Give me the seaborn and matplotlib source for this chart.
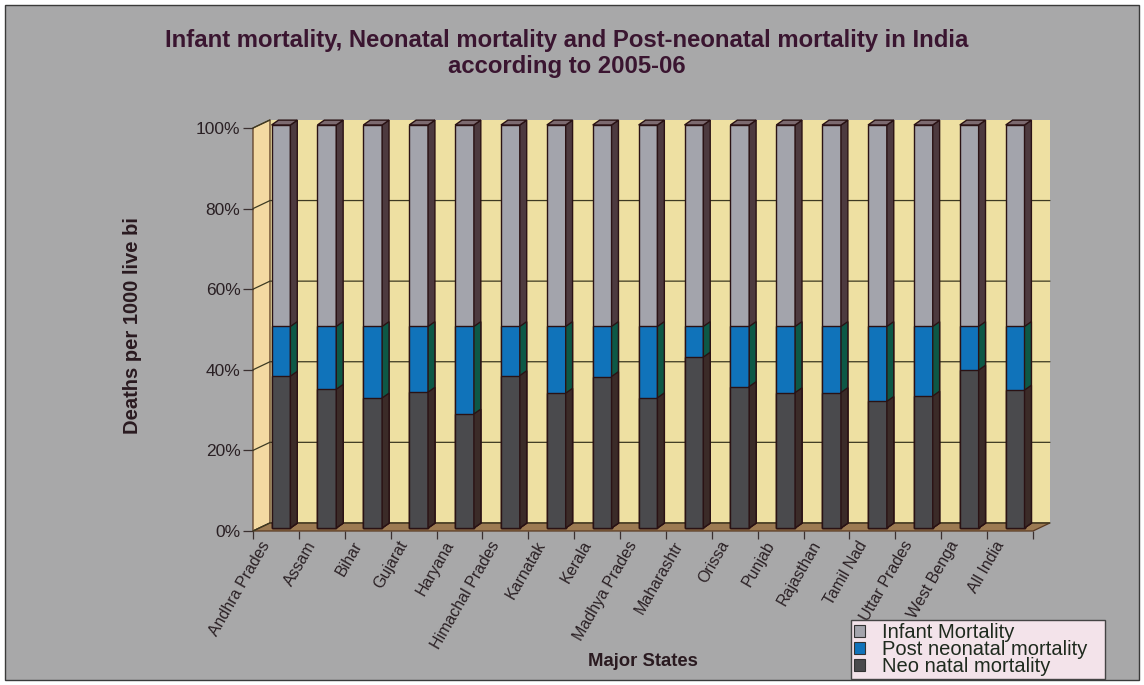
import numpy as np
import pandas as pd
import matplotlib
matplotlib.use("Agg")
import matplotlib.pyplot as plt
from matplotlib.patches import Polygon, Rectangle, Patch
import seaborn as sns

# NFHS-3 (2005-06) mortality rates, deaths per 1000 live births
states = ["Andhra Prades", "Assam", "Bihar", "Gujarat", "Haryana",
          "Himachal Prades", "Karnatak", "Kerala", "Madhya Prades",
          "Maharashtr", "Orissa", "Punjab", "Rajasthan", "Tamil Nad",
          "Uttar Prades", "West Benga", "All India"]
neonatal = [40.3, 45.5, 39.8, 33.5, 23.6, 27.3, 28.9, 11.5, 44.9,
            31.8, 45.4, 28.0, 43.9, 19.1, 47.6, 37.6, 39.0]
post_neonatal = [13.2, 20.6, 21.9, 16.2, 18.1, 8.8, 14.3, 3.8, 24.6,
                 5.7, 19.3, 13.7, 21.4, 11.3, 25.1, 10.4, 18.0]
infant = [53.5, 66.1, 61.7, 49.7, 41.7, 36.1, 43.2, 15.3, 69.5,
          37.5, 64.7, 41.7, 65.3, 30.4, 72.7, 48.0, 57.0]

series = ["Infant Mortality", "Post neonatal mortality", "Neo natal mortality"]
front = {"Infant Mortality": "#a3a4ac",
         "Post neonatal mortality": "#1073ba",
         "Neo natal mortality": "#4a4a4d"}
side = {"Infant Mortality": "#4d3a3f",
        "Post neonatal mortality": "#0d5846",
        "Neo natal mortality": "#3b2b28"}
edge = "#2a1214"

# 100% stacked shares, cumulative from the bottom
neo = np.array(neonatal)
post = np.array(post_neonatal)
inf = np.array(infant)
total = neo + post + inf
df = pd.DataFrame({
    "state": states,
    "Neo natal mortality": neo / total * 100,
    "Post neonatal mortality": (neo + post) / total * 100,
    "Infant Mortality": (neo + post + inf) / total * 100,
})

sns.set_theme(style="white")
plt.rcParams["font.family"] = ["Liberation Sans", "DejaVu Sans"]

W, H = 1144, 685
fig = plt.figure(figsize=(W / 100, H / 100), dpi=100, facecolor="white")

# grey chart area with a thin frame
fig.patches.append(Rectangle((5 / W, 5 / H), 1 - 10 / W, 1 - 10 / H,
                             transform=fig.transFigure, facecolor="#a8a8a9",
                             edgecolor="#3a3a3a", linewidth=1.0, zorder=-10))

ax = fig.add_axes([253 / W, (H - 531) / H, 780 / W, 403 / H])
ax.set_zorder(2)
ax.set_facecolor("none")
for s in ax.spines.values():
    s.set_visible(False)

n = len(states)
x_lo, x_hi = -0.5, n - 0.5
wx, wy = 0.37, 2.0          # wall depth
bw, dx, dy = 0.41, 0.15, 1.2  # bar width and bar depth
sx, sy = 0.11, 0.75           # bars sit mid-way in depth

# walls and floor
ax.add_patch(Polygon([(x_lo, 0), (x_lo + wx, wy), (x_lo + wx, 100 + wy), (x_lo, 100)],
                     closed=True, facecolor="#f3d9a2", edgecolor="#5a3a22",
                     linewidth=0.9, zorder=0.5, clip_on=False))
ax.add_patch(Rectangle((x_lo + wx, wy), n, 100, facecolor="#eee0a2",
                       edgecolor="none", zorder=0.4, clip_on=False))
ax.add_patch(Polygon([(x_lo, 0), (x_hi, 0), (x_hi + wx, wy), (x_lo + wx, wy)],
                     closed=True, facecolor="#9c7a52", edgecolor="#5a3a22",
                     linewidth=0.9, zorder=0.6, clip_on=False))
for g in range(0, 101, 20):
    xs = [x_lo, x_lo + wx] if g == 100 else [x_lo, x_lo + wx, x_hi + wx]
    ys = [g, g + wy] if g == 100 else [g, g + wy, g + wy]
    ax.plot(xs, ys, color="#3d3a22", linewidth=0.9, zorder=0.7, clip_on=False)

# stacked bars: full bar first, lower segments drawn over it
for k, name in enumerate(series):
    before = len(ax.patches)
    sns.barplot(data=df, x="state", y=name, color=front[name], width=bw,
                edgecolor=edge, linewidth=1.0, saturation=1, ax=ax,
                zorder=3 + 2 * k)
    for p in ax.patches[before:]:
        p.set_facecolor(front[name])
        p.set_zorder(3 + 2 * k)
        p.set_clip_on(False)
        p.set_x(p.get_x() + sx)
        p.set_y(sy)
        x0 = p.get_x()
        top = sy + p.get_height()
        ax.add_patch(Polygon([(x0 + bw, sy), (x0 + bw + dx, sy + dy),
                              (x0 + bw + dx, top + dy), (x0 + bw, top)],
                             closed=True, facecolor=side[name], edgecolor=edge,
                             linewidth=1.0, zorder=3 + 2 * k + 1, clip_on=False))
        if k == 0:
            ax.add_patch(Polygon([(x0, top), (x0 + dx, top + dy),
                                  (x0 + bw + dx, top + dy), (x0 + bw, top)],
                                 closed=True, facecolor="#7c6a70", edgecolor=edge,
                                 linewidth=1.0, zorder=4, clip_on=False))

ax.set_xlim(x_lo, x_hi)
ax.set_ylim(0, 100)
ax.set_xlabel("")
ax.set_ylabel("")

ax.set_yticks(range(0, 101, 20))
ax.set_yticklabels([f"{v}%" for v in range(0, 101, 20)], fontsize=12.5, color="#2a2024")
ax.tick_params(axis="y", which="major", left=True, length=7, width=0.9,
               color="#3a3030", pad=2)

# category labels hang just left of each category centre
ax.set_xticks(np.arange(n) - 0.2)
ax.set_xticklabels(states, fontsize=11.5, color="#2a2024", rotation=60,
                   ha="right", va="center", rotation_mode="anchor")
ax.set_xticks(np.arange(x_lo, x_hi + 0.01, 1), minor=True)
ax.tick_params(axis="x", which="major", bottom=True, length=0, pad=8)
ax.tick_params(axis="x", which="minor", bottom=True, length=6, width=0.9,
               color="#3a3030")

fig.text(567 / W, 1 - 40 / H,
         "Infant mortality, Neonatal mortality and Post-neonatal mortality in India",
         ha="center", va="center", fontsize=17.2, fontweight="bold", color="#3a1530")
fig.text(567 / W, 1 - 66 / H, "according to 2005-06",
         ha="center", va="center", fontsize=17.2, fontweight="bold", color="#3a1530")
fig.text(132 / W, 1 - 326 / H, "Deaths per 1000 live bi", rotation=90,
         ha="center", va="center", fontsize=14.5, fontweight="bold", color="#2a1a20")
fig.text(643 / W, 1 - 662 / H, "Major States", ha="center", va="center",
         fontsize=13.3, fontweight="bold", color="#2a1a20")

handles = [Patch(facecolor=front[s], edgecolor="#333333", linewidth=0.8) for s in series]
leg = fig.legend(handles, series, loc="lower left", mode="expand",
                 bbox_to_anchor=(851 / W, (H - 679) / H, 254 / W, 57 / H),
                 fontsize=14.5, frameon=True, fancybox=False, framealpha=1,
                 facecolor="#f3e3ea", edgecolor="#444444",
                 handlelength=0.55, handleheight=0.55, handletextpad=0.85,
                 labelspacing=-0.1, borderpad=0.15, borderaxespad=0)
for t in leg.get_texts():
    t.set_color("#1e2a1e")

fig.savefig("out.png", dpi=100, facecolor="white")
